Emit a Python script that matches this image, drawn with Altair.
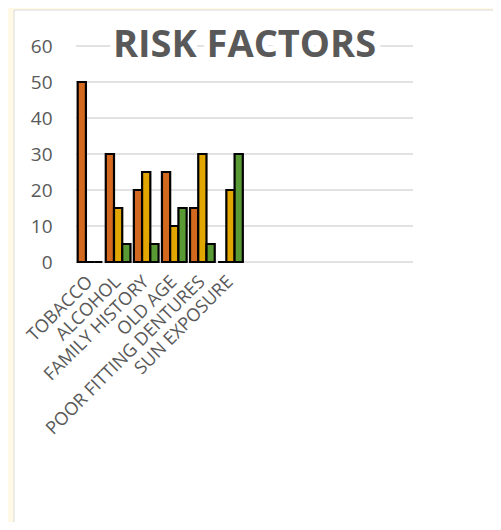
import altair as alt
import pandas as pd

# ---- data ----
title_text = "RISK FACTORS"
categories = ["TOBACCO", "ALCOHOL", "FAMILY HISTORY", "OLD AGE",
              "POOR FITTING DENTURES", "SUN EXPOSURE"]
blank_slots = ["_1", "_2", "_3", "_4", "_5", "_6"]   # empty category slots on the axis
series_names = ["Series1", "Series2", "Series3"]
series1 = [50, 30, 20, 25, 15, 0]
series2 = [0, 15, 25, 10, 30, 20]
series3 = [0, 5, 5, 15, 5, 30]
series_colors = ["#D2691E", "#E2A600", "#5A9A34"]
y_ticks = [0, 10, 20, 30, 40, 50, 60]

rows = []
for name, vals in zip(series_names, [series1, series2, series3]):
    for c, v in zip(categories, vals):
        rows.append({"category": c, "series": name, "value": v})
df = pd.DataFrame(rows)

W, H = 337, 216
GRAY = "#595959"
FONT = "Open Sans"

x_scale = alt.Scale(domain=categories + blank_slots, paddingInner=0.12, paddingOuter=0.06)
y_scale = alt.Scale(domain=[0, 60], nice=False)
y_axis = alt.Axis(values=y_ticks, grid=False, domain=False, ticks=False, tickSize=0,
                  labelPadding=24, labelFontSize=19, labelFont=FONT,
                  labelColor=GRAY, zindex=1)

panel = alt.Chart(alt.Data(values=[{}])).mark_rect(
    fill="white", stroke="#D9D9D9", strokeWidth=1
).encode(
    x=alt.value(-62), x2=alt.value(W + 120),
    y=alt.value(-36), y2=alt.value(H + 320),
)

grid = alt.Chart(pd.DataFrame({"t": y_ticks})).mark_rule(
    color="#D9D9D9", strokeWidth=1.3
).encode(y=alt.Y("t:Q", scale=y_scale, axis=y_axis, title=None))

bars = alt.Chart(df).mark_bar(stroke="black", strokeWidth=2.2).encode(
    x=alt.X("category:N", scale=x_scale, sort=None, title=None,
            axis=alt.Axis(labelAngle=-45, labelAlign="right", labelBaseline="middle",
                          labelExpr="indexof(datum.value, '_') === 0 ? '' : datum.label",
                          ticks=False, tickSize=0, domain=False, grid=False,
                          labelPadding=17, labelFontSize=18, labelFont=FONT,
                          labelColor=GRAY, zindex=1, labelOverlap=False, labelLimit=400)),
    xOffset=alt.XOffset("series:N", sort=series_names, scale=alt.Scale(paddingInner=0, paddingOuter=0)),
    y=alt.Y("value:Q", scale=y_scale, title=None, axis=y_axis),
    color=alt.Color("series:N", scale=alt.Scale(domain=series_names, range=series_colors),
                    legend=None),
)

title_data = alt.Data(values=[{"label": title_text}])
title_bg = alt.Chart(title_data).mark_text(
    fontSize=38, font=FONT, fontWeight="bold", color="white",
    stroke="white", strokeWidth=12, align="center", baseline="alphabetic"
).encode(x=alt.value(W / 2), y=alt.value(11), text="label:N")
title = alt.Chart(title_data).mark_text(
    fontSize=38, font=FONT, fontWeight="bold", color=GRAY,
    align="center", baseline="alphabetic"
).encode(x=alt.value(W / 2), y=alt.value(11), text="label:N")

chart = alt.layer(panel, grid, bars, title_bg, title).properties(
    width=W, height=H,
    background="#FFF9E6",
    padding={"left": 68, "top": 38, "right": 80, "bottom": 260},
    autosize=alt.AutoSizeParams(type="none"),
).configure_view(stroke=None)

chart.save("out.html", embed_options={"renderer": "svg", "actions": False})
